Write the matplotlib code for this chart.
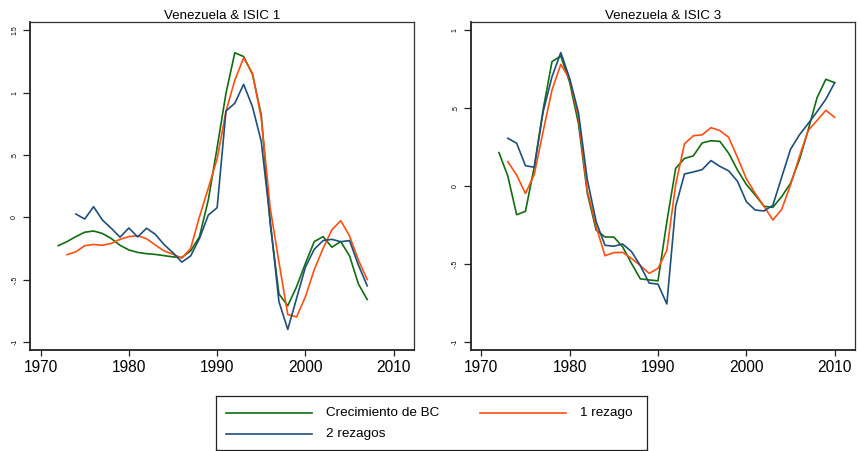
import numpy as np
import matplotlib
matplotlib.use("Agg")
import matplotlib.pyplot as plt
from matplotlib.lines import Line2D

plt.rcParams['font.family'] = ['Liberation Sans', 'DejaVu Sans']

# ISIC 1
years_bc_1 = list(range(1972, 2008))
bc_1 = [-0.228, -0.195, -0.155, -0.12, -0.11, -0.13, -0.17, -0.225, -0.262, -0.282,
        -0.292, -0.298, -0.308, -0.318, -0.322, -0.27, -0.155, 0.14, 0.56, 0.995,
        1.32, 1.29, 1.148, 0.82, -0.045, -0.615, -0.71, -0.557, -0.37, -0.195,
        -0.155, -0.24, -0.195, -0.31, -0.535, -0.66]
years_r1_1 = list(range(1973, 2008))
rez1_1 = [-0.30, -0.277, -0.228, -0.218, -0.225, -0.21, -0.177, -0.155, -0.148, -0.172,
          -0.223, -0.27, -0.296, -0.328, -0.25, 0.005, 0.234, 0.47, 0.85, 1.10,
          1.28, 1.155, 0.795, 0.08, -0.36, -0.78, -0.80, -0.637, -0.42, -0.25,
          -0.10, -0.027, -0.15, -0.343, -0.50]
years_r2_1 = list(range(1974, 2008))
rez2_1 = [0.026, -0.014, 0.085, -0.022, -0.088, -0.16, -0.086, -0.158, -0.088, -0.137,
          -0.22, -0.285, -0.36, -0.31, -0.17, 0.018, 0.077, 0.853, 0.915, 1.067,
          0.888, 0.607, -0.02, -0.677, -0.90, -0.65, -0.40, -0.257, -0.187, -0.177,
          -0.196, -0.187, -0.383, -0.55]

# ISIC 3
years_bc_3 = list(range(1972, 2011))
bc_3 = [0.214, 0.064, -0.184, -0.162, 0.124, 0.49, 0.797, 0.833, 0.665, 0.40,
        -0.047, -0.282, -0.327, -0.327, -0.39, -0.496, -0.595, -0.602, -0.608, -0.23,
        0.113, 0.177, 0.193, 0.276, 0.29, 0.286, 0.21, 0.102, 0.01, -0.058,
        -0.13, -0.137, -0.068, 0.017, 0.167, 0.359, 0.565, 0.684, 0.662]
years_r_3 = list(range(1973, 2011))
rez1_3 = [0.156, 0.07, -0.048, 0.075, 0.35, 0.615, 0.78, 0.685, 0.44, -0.03,
          -0.26, -0.447, -0.427, -0.425, -0.464, -0.51, -0.56, -0.528, -0.413, 0.01,
          0.271, 0.322, 0.328, 0.374, 0.355, 0.312, 0.183, 0.047, -0.047, -0.13,
          -0.218, -0.15, 0.006, 0.188, 0.355, 0.42, 0.485, 0.44]
rez2_3 = [0.306, 0.274, 0.13, 0.12, 0.475, 0.70, 0.855, 0.69, 0.47, 0.04,
          -0.229, -0.38, -0.386, -0.372, -0.42, -0.51, -0.622, -0.629, -0.756, -0.131,
          0.077, 0.09, 0.105, 0.163, 0.126, 0.097, 0.03, -0.10, -0.154, -0.16,
          -0.124, 0.056, 0.235, 0.327, 0.40, 0.476, 0.556, 0.662]

xticks = [1970, 1980, 1990, 2000, 2010]
yticks_1 = [-1, -0.5, 0, 0.5, 1, 1.5]
yticks_3 = [-1, -0.5, 0, 0.5, 1]
labels = ['Crecimiento de BC', '1 rezago', '2 rezagos']

c_bc = '#0f6e0f'
c_r1 = '#ff4f0f'
c_r2 = '#1f4f7a'


def fmt(v):
    s = ('%g' % v)
    return s.replace('0.', '.')


W, H = 858, 451
fig = plt.figure(figsize=(W / 100, H / 100), dpi=100)


def make_ax(x0, x1, y0, y1):
    return fig.add_axes([x0 / W, 1 - y1 / H, (x1 - x0) / W, (y1 - y0) / H])


def style(ax, title, yticks, ylim):
    ax.set_xlim(1968.8, 2012.3)
    ax.set_ylim(*ylim)
    ax.set_xticks(xticks)
    ax.set_yticks(yticks)
    ax.set_yticklabels([fmt(v) for v in yticks], rotation=90, va='center', fontsize=5)
    ax.tick_params(axis='x', length=4.5, width=0.9, pad=3, labelsize=11.2, color='#222222')
    ax.tick_params(axis='y', length=5, width=0.9, pad=3.5, color='#222222')
    for s in ['top', 'right']:
        ax.spines[s].set_linewidth(0.9)
        ax.spines[s].set_color('#333333')
    for s in ['left', 'bottom']:
        ax.spines[s].set_linewidth(1.3)
        ax.spines[s].set_color('#222222')
    ax.set_title(title, fontsize=9.6, pad=2.5)


ax1 = make_ax(30, 414, 22, 350)
ax1.plot(years_bc_1, bc_1, color=c_bc, lw=1.2)
ax1.plot(years_r1_1, rez1_1, color=c_r1, lw=1.2)
ax1.plot(years_r2_1, rez2_1, color=c_r2, lw=1.2)
style(ax1, 'Venezuela & ISIC 1', yticks_1, (-1.065, 1.567))

ax3 = make_ax(470.7, 855, 22, 350)
ax3.plot(years_bc_3, bc_3, color=c_bc, lw=1.2)
ax3.plot(years_r_3, rez1_3, color=c_r1, lw=1.2)
ax3.plot(years_r_3, rez2_3, color=c_r2, lw=1.2)
style(ax3, 'Venezuela & ISIC 3', yticks_3, (-1.051, 1.051))

# legend box below both panels
lax = make_ax(216, 647, 396, 450)
lax.set_xlim(216, 647)
lax.set_ylim(450, 396)
lax.set_xticks([])
lax.set_yticks([])
for s in lax.spines.values():
    s.set_linewidth(0.9)
    s.set_color('#222222')
entries = [(226, 312, 326, 413.3, c_bc, labels[0]),
           (480, 566, 580.5, 413.3, c_r1, labels[1]),
           (226, 312, 326, 434, c_r2, labels[2])]
for xa, xb, xt, yy, col, lab in entries:
    lax.add_line(Line2D([xa, xb], [yy, yy], color=col, lw=1.2))
    lax.text(xt, yy, lab, fontsize=9.7, va='center', ha='left')

fig.savefig('out.png', dpi=100)
